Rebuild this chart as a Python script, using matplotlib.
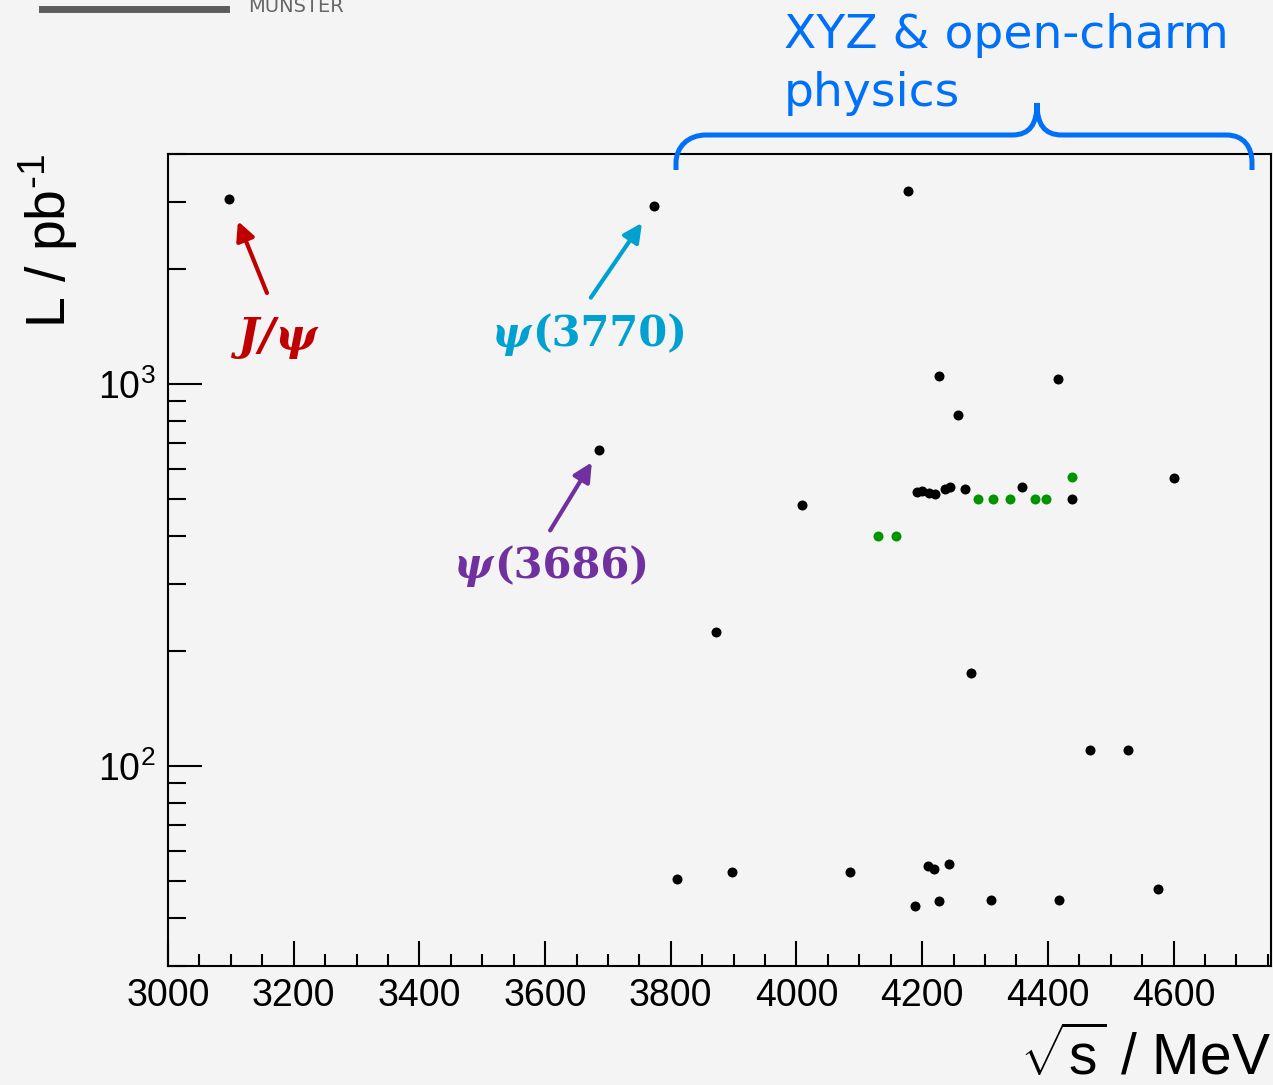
import matplotlib
matplotlib.use("Agg")
import matplotlib.pyplot as plt
from matplotlib.path import Path
from matplotlib.patches import PathPatch
from matplotlib.ticker import MultipleLocator, LogLocator, NullFormatter

plt.rcParams['font.family'] = ['Liberation Sans', 'DejaVu Sans']
plt.rcParams['mathtext.fontset'] = 'custom'
plt.rcParams['mathtext.rm'] = 'Liberation Sans'
plt.rcParams['mathtext.it'] = 'Liberation Sans:italic'
plt.rcParams['mathtext.bf'] = 'Liberation Sans:bold'

# charmonium resonance runs
res_energy = [3097, 3773, 3686]
res_lumi = [3050, 2930, 670]

# XYZ / open-charm data sets (black)
xyz_energy = [3872, 4008, 4178, 4227, 4257, 4416,
              4191, 4199, 4211, 4221, 4236, 4244, 4268, 4359, 4438, 4600,
              4278, 4467, 4528,
              3810, 3898, 4085, 4209, 4219, 4243,
              4189, 4227, 4310, 4417, 4575]
xyz_lumi = [224, 482, 3200, 1049, 830, 1031,
            523, 525, 517, 514, 530, 536, 531, 539, 500, 566,
            175, 110, 110,
            50.5, 52.7, 52.7, 54.6, 53.7, 55.4,
            43.0, 44.2, 44.7, 44.7, 47.6]

# newer data sets (green)
new_energy = [4130, 4158, 4289, 4313, 4339, 4379, 4397, 4438]
new_lumi = [400, 400, 500, 500, 500, 500, 500, 570]

W, H = 1273, 1085
bg = '#f4f4f4'

fig = plt.figure(figsize=(W / 100, H / 100), dpi=100, facecolor=bg)
ax = fig.add_axes([168 / W, 1 - 965.7 / H, (1271 - 168) / W, (965.7 - 154) / H])
ax.set_facecolor(bg)

ax.plot(res_energy, res_lumi, 'o', color='black', ms=7.2, mew=0)
ax.plot(xyz_energy, xyz_lumi, 'o', color='black', ms=7.2, mew=0)
ax.plot(new_energy, new_lumi, 'o', color='#009400', ms=7.2, mew=0)

ax.set_yscale('log')
ax.set_xlim(3000, 4755)
ax.set_ylim(30, 4000)

ax.xaxis.set_major_locator(MultipleLocator(200))
ax.xaxis.set_minor_locator(MultipleLocator(50))
ax.yaxis.set_major_locator(LogLocator(base=10))
ax.yaxis.set_minor_locator(LogLocator(base=10, subs=range(2, 10)))
ax.yaxis.set_minor_formatter(NullFormatter())

for s in ax.spines.values():
    s.set_linewidth(1.5)
ax.tick_params(which='both', direction='in', top=False, right=False, width=1.5, labelsize=27)
ax.tick_params(axis='x', which='major', length=18, pad=9)
ax.tick_params(axis='x', which='minor', length=8.6)
ax.tick_params(axis='y', which='major', length=24.5, pad=9)
ax.tick_params(axis='y', which='minor', length=13)

ax.set_xlabel(r'$\sqrt{\mathdefault{s}}$ / MeV', fontsize=41, loc='right')
ax.xaxis.set_label_coords(1.0, -0.077)
ax.set_ylabel(r'L / pb$^{\text{-1}}$', fontsize=40, loc='top')
ax.yaxis.set_label_coords(-0.08, 1.0)


def pt(v):
    return v * 0.72


arrow_specs = [
    # (index, colour, tail offset px, shrink px)
    (0, '#c00000', (38, -94), 24),
    (1, '#00a0d0', (-63, -92), 21),
    (2, '#7030a0', (-49, -80), 14),
]
for i, c, (dx, dy), sh in arrow_specs:
    ax.annotate('', xy=(res_energy[i], res_lumi[i]), xytext=(pt(dx), pt(dy)),
                textcoords='offset points',
                arrowprops=dict(arrowstyle='-|>', color=c, lw=3, mutation_scale=28,
                                shrinkA=0, shrinkB=pt(sh)))

serif = 'DejaVu Serif'
ax.annotate('J/ψ', xy=(res_energy[0], res_lumi[0]), xytext=(pt(49), pt(-151)),
            textcoords='offset points', ha='center', va='baseline',
            color='#c00000', fontsize=32, family=serif, weight='bold', style='italic')

psi_labels = [(1, '(3770)', '#00a0d0', (-123, -141)),
              (2, '(3686)', '#7030a0', (-106, -128))]
for i, txt, c, (dx, dy) in psi_labels:
    ax.annotate('ψ', xy=(res_energy[i], res_lumi[i]), xytext=(pt(dx), pt(dy)),
                textcoords='offset points', ha='right', va='baseline',
                color=c, fontsize=30, family=serif, weight='bold', style='italic')
    ax.annotate(txt, xy=(res_energy[i], res_lumi[i]), xytext=(pt(dx + 1), pt(dy)),
                textcoords='offset points', ha='left', va='baseline',
                color=c, fontsize=30, family=serif, weight='bold')

# curly brace over the XYZ region
blue = '#0070f8'
brace_px = [
    ((676, 170), Path.MOVETO),
    ((676, 163), Path.LINETO),
    ((676, 147), Path.CURVE4), ((688, 135), Path.CURVE4), ((706, 135), Path.CURVE4),
    ((1012, 135), Path.LINETO),
    ((1030, 135), Path.CURVE4), ((1037, 124), Path.CURVE4), ((1037, 103), Path.CURVE4),
    ((1037, 124), Path.CURVE4), ((1044, 135), Path.CURVE4), ((1062, 135), Path.CURVE4),
    ((1226, 135), Path.LINETO),
    ((1244, 135), Path.CURVE4), ((1252, 147), Path.CURVE4), ((1252, 163), Path.CURVE4),
    ((1252, 170), Path.LINETO),
]
verts = [(x / W, 1 - y / H) for (x, y), _ in brace_px]
codes = [c for _, c in brace_px]
fig.add_artist(PathPatch(Path(verts, codes), transform=fig.transFigure,
                         fill=False, edgecolor=blue, lw=3.6, capstyle='butt'))

fig.text(784 / W, 1 - 48 / H, 'XYZ & open-charm', color=blue, fontsize=34,
         family='DejaVu Sans', va='baseline', ha='left')
fig.text(784 / W, 1 - 106 / H, 'physics', color=blue, fontsize=34,
         family='DejaVu Sans', va='baseline', ha='left')

# university logo strip along the top edge
fig.add_artist(plt.Line2D([42 / W, 226 / W], [1 - 8.5 / H, 1 - 8.5 / H],
                          transform=fig.transFigure, color='#5c5c5c', lw=5))
fig.text(248 / W, 1 - 11.7 / H, 'MÜNSTER', color='#666666', fontsize=14,
         family='DejaVu Sans', va='baseline', ha='left')

fig.savefig('out.png', dpi=100, facecolor=bg)
